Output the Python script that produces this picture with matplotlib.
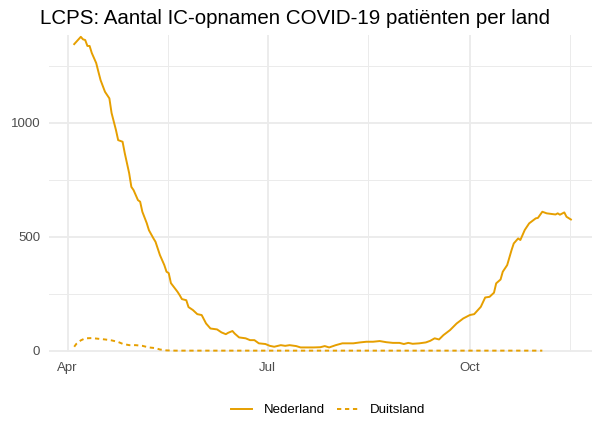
import matplotlib
matplotlib.use("Agg")
import matplotlib.pyplot as plt
import matplotlib.dates as mdates
import pandas as pd

plt.rcParams['font.family'] = ['Liberation Sans', 'DejaVu Sans']

nl_dates = ["2020-04-04", "2020-04-07", "2020-04-08", "2020-04-09", "2020-04-10", "2020-04-11",
            "2020-04-12", "2020-04-14", "2020-04-15", "2020-04-16", "2020-04-18", "2020-04-20",
            "2020-04-21", "2020-04-23", "2020-04-24", "2020-04-26", "2020-04-27", "2020-04-29",
            "2020-04-30", "2020-05-01", "2020-05-03", "2020-05-04", "2020-05-05", "2020-05-07",
            "2020-05-08", "2020-05-10", "2020-05-11", "2020-05-13", "2020-05-15", "2020-05-16",
            "2020-05-17", "2020-05-18", "2020-05-21", "2020-05-22", "2020-05-23", "2020-05-25",
            "2020-05-26", "2020-05-28", "2020-05-30", "2020-06-01", "2020-06-03", "2020-06-05",
            "2020-06-08", "2020-06-10", "2020-06-12", "2020-06-13", "2020-06-15", "2020-06-16",
            "2020-06-18", "2020-06-21", "2020-06-23", "2020-06-25", "2020-06-27", "2020-06-30",
            "2020-07-02", "2020-07-04", "2020-07-07", "2020-07-09", "2020-07-11", "2020-07-14",
            "2020-07-16", "2020-07-22", "2020-07-25", "2020-07-27", "2020-07-29", "2020-08-01",
            "2020-08-04", "2020-08-09", "2020-08-12", "2020-08-15", "2020-08-18", "2020-08-21",
            "2020-08-24", "2020-08-27", "2020-08-30", "2020-09-01", "2020-09-03", "2020-09-05",
            "2020-09-08", "2020-09-11", "2020-09-13", "2020-09-15", "2020-09-17", "2020-09-19",
            "2020-09-22", "2020-09-25", "2020-09-28", "2020-10-01", "2020-10-03", "2020-10-06",
            "2020-10-08", "2020-10-10", "2020-10-12", "2020-10-13", "2020-10-15", "2020-10-16",
            "2020-10-18", "2020-10-20", "2020-10-21", "2020-10-23", "2020-10-24", "2020-10-26",
            "2020-10-28", "2020-10-31", "2020-11-01", "2020-11-03", "2020-11-05", "2020-11-09",
            "2020-11-10", "2020-11-11", "2020-11-13", "2020-11-14", "2020-11-16"]
nl_values = [1344, 1376, 1365, 1362, 1336, 1336,
             1305, 1261, 1223, 1186, 1135, 1106,
             1042, 967, 923, 916, 866, 778,
             718, 704, 660, 653, 609, 559,
             528, 493, 477, 419, 375, 346,
             340, 296, 258, 243, 226, 221,
             191, 178, 160, 156, 119, 97,
             93, 80, 72, 78, 86, 75,
             58, 54, 46, 46, 32, 29,
             21, 17, 24, 21, 24, 20,
             14, 14, 15, 20, 14, 24,
             32, 32, 36, 39, 39, 42,
             37, 34, 34, 29, 34, 30,
             32, 36, 43, 54, 49, 68,
             90, 119, 141, 156, 160, 192,
             233, 236, 254, 295, 312, 346,
             375, 441, 470, 492, 485, 529,
             558, 580, 582, 609, 602, 597,
             602, 596, 606, 587, 575]

de_dates = ["2020-04-04", "2020-04-05", "2020-04-07", "2020-04-09", "2020-04-12", "2020-04-15",
            "2020-04-18", "2020-04-21", "2020-04-24", "2020-04-26", "2020-04-29", "2020-05-02",
            "2020-05-05", "2020-05-08", "2020-05-11", "2020-05-13", "2020-05-16", "2020-05-20",
            "2020-06-15", "2020-07-15", "2020-08-15", "2020-09-15", "2020-10-15", "2020-11-03"]
de_values = [17, 30, 45, 54, 55, 52,
             49, 45, 38, 30, 24, 24,
             21, 14, 11, 5, 1, 0,
             0, 0, 0, 0, 0, 0]

series_names = ["Nederland", "Duitsland"]
title = "LCPS: Aantal IC-opnamen COVID-19 patiënten per land"
x_ticks = ["2020-04-01", "2020-07-01", "2020-10-01"]
x_ticklabels = ["Apr", "Jul", "Oct"]
x_minor = ["2020-05-16 12:00", "2020-08-15 12:00", "2020-11-15 12:00"]
y_ticks = [0, 500, 1000]
y_minor = [250, 750, 1250]

color = "#E69F00"
W, H = 592, 422
fig = plt.figure(figsize=(W / 100, H / 100), dpi=100)
ax = fig.add_axes([48.5 / W, 1 - 352 / H, (592 - 48.5) / W, (352 - 35) / H])

nl_x = pd.to_datetime(nl_dates)
de_x = pd.to_datetime(de_dates)
l1, = ax.plot(nl_x, nl_values, color=color, lw=1.4, solid_joinstyle='round', clip_on=False, zorder=3)
l2, = ax.plot(de_x, de_values, color=color, lw=1.4, clip_on=False, zorder=3)
l2.set_dashes((2.2, 1.9))

start = pd.Timestamp("2020-04-01")
ax.set_xlim(start - pd.Timedelta(days=8.7), start + pd.Timedelta(days=238.6))
ax.set_ylim(-6, 1384)

ax.set_xticks(pd.to_datetime(x_ticks))
ax.set_xticklabels(x_ticklabels)
ax.set_xticks(pd.to_datetime(x_minor), minor=True)
ax.set_yticks(y_ticks)
ax.set_yticks(y_minor, minor=True)

ax.grid(which='major', color='#EBEBEB', lw=1.3)
ax.grid(which='minor', color='#EBEBEB', lw=0.7)
ax.set_axisbelow(True)
for s in ax.spines.values():
    s.set_visible(False)
ax.tick_params(which='both', length=0)
ax.tick_params(axis='both', labelsize=9.5, labelcolor='#4D4D4D')
ax.tick_params(axis='x', pad=7)
ax.tick_params(axis='y', pad=6)

fig.text(40 / W, 1 - 19 / H, title, fontsize=14.8, va='center', ha='left', color='black')

fig.legend([l1, l2], series_names, loc='center', bbox_to_anchor=(328 / W, 1 - 410 / H),
           ncol=2, frameon=False, fontsize=9.5, handlelength=1.6, handletextpad=0.9,
           columnspacing=0.9)

fig.savefig("out.png", dpi=100)
